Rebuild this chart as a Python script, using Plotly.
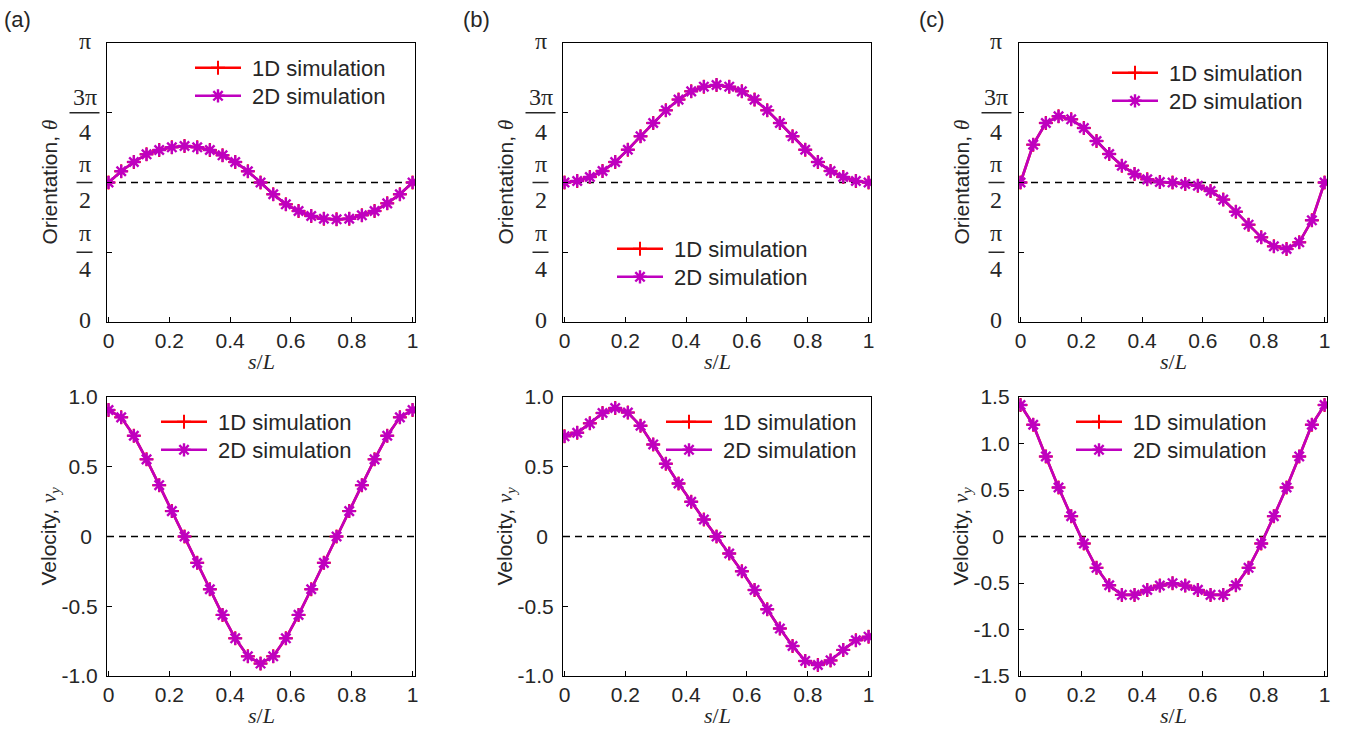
import math
import plotly.graph_objects as go

W, H = 1361, 734

# ---------------- data ----------------
s = [0.0, 0.0417, 0.0833, 0.125, 0.1667, 0.2083, 0.25, 0.2917, 0.3333, 0.375,
     0.4167, 0.4583, 0.5, 0.5417, 0.5833, 0.625, 0.6667, 0.7083, 0.75, 0.7917,
     0.8333, 0.875, 0.9167, 0.9583, 1.0]

theta_a = [1.571, 1.697, 1.802, 1.888, 1.937, 1.967, 1.982, 1.967, 1.937, 1.877,
           1.802, 1.697, 1.571, 1.438, 1.325, 1.250, 1.194, 1.163, 1.156, 1.163,
           1.201, 1.250, 1.336, 1.438, 1.571]
theta_b = [1.571, 1.588, 1.633, 1.700, 1.802, 1.940, 2.091, 2.241, 2.383, 2.504,
           2.597, 2.650, 2.669, 2.650, 2.597, 2.504, 2.383, 2.241, 2.091, 1.940,
           1.802, 1.700, 1.633, 1.588, 1.571]
theta_c = [1.571, 1.997, 2.241, 2.316, 2.282, 2.184, 2.038, 1.892, 1.760, 1.667,
           1.606, 1.576, 1.571, 1.554, 1.535, 1.475, 1.378, 1.242, 1.096, 0.953,
           0.852, 0.822, 0.897, 1.145, 1.571]

v_a = [0.907, 0.854, 0.722, 0.553, 0.368, 0.182, 0.0, -0.189, -0.378, -0.562,
       -0.730, -0.859, -0.911, -0.859, -0.730, -0.562, -0.378, -0.189, 0.0, 0.182,
       0.368, 0.553, 0.722, 0.854, 0.907]
v_b = [0.718, 0.744, 0.811, 0.885, 0.921, 0.888, 0.794, 0.660, 0.522, 0.380,
       0.249, 0.122, 0.0, -0.122, -0.249, -0.383, -0.522, -0.660, -0.785, -0.892,
       -0.921, -0.888, -0.813, -0.744, -0.718]
v_c = [1.414, 1.202, 0.861, 0.527, 0.219, -0.075, -0.337, -0.524, -0.628, -0.628,
       -0.574, -0.528, -0.502, -0.528, -0.574, -0.628, -0.628, -0.524, -0.337, -0.075,
       0.219, 0.527, 0.861, 1.202, 1.414]

series_names = ["1D simulation", "2D simulation"]
panel_labels = ["(a)", "(b)", "(c)"]
x_ticks = [0, 0.2, 0.4, 0.6, 0.8, 1]
x_ticktext = ["0", "0.2", "0.4", "0.6", "0.8", "1"]
theta_ticks = [0, math.pi / 4, math.pi / 2, 3 * math.pi / 4, math.pi]
v_ticks_ab = [-1.0, -0.5, 0, 0.5, 1.0]
v_ticktext_ab = ["-1.0", "-0.5", "0", "0.5", "1.0"]
v_ticks_c = [-1.5, -1.0, -0.5, 0, 0.5, 1.0, 1.5]
v_ticktext_c = ["-1.5", "-1.0", "-0.5", "0", "0.5", "1.0", "1.5"]

# ---------------- style ----------------
RED = "#FF0000"
MAG = "#BF00BF"
TXT = "#262626"
SANS = "Liberation Sans, Arial, sans-serif"
SERIF = "Liberation Serif, Times New Roman, serif"

col_left = [107, 563, 1019]
pw = 308
rows = [(43, 322), (397, 676)]


def fx(px):
    return px / W


def fy(py):
    return 1 - py / H


def pad_zero(labels):
    # the "0" label sits a little left of the right-aligned column in the original
    return [t + "\u00a0" if t == "0" else t for t in labels]


fig = go.Figure()

ydata = [theta_a, theta_b, theta_c, v_a, v_b, v_c]
# (line start x, first row centre y) in pixels
legend_pos = [(196, 68), (618, 249), (1113, 73), (162, 422), (667, 422), (1077, 422)]
ROW_GAP = 28

layout = dict(template="none", width=W, height=H,
              margin=dict(l=0, r=0, t=0, b=0, pad=0, autoexpand=False),
              paper_bgcolor="white", plot_bgcolor="white", showlegend=True)

shapes = []
annotations = []
legend_count = 0

for i in range(6):
    r, c = divmod(i, 3)
    n = "" if i == 0 else str(i + 1)
    L = col_left[c]
    top, bot = rows[r]
    xa = "xaxis" + n
    ya = "yaxis" + n
    lx, ly = legend_pos[i]

    styles = [
        dict(line=dict(color=RED, width=2.6),
             marker=dict(symbol="cross-thin-open", size=10, color=RED,
                         line=dict(color=RED, width=2))),
        dict(line=dict(color=MAG, width=2.6),
             marker=dict(symbol="asterisk-open", size=11, color=MAG,
                         line=dict(color=MAG, width=2.4))),
    ]
    for k in range(2):
        legend_count += 1
        lg = "legend" if legend_count == 1 else "legend" + str(legend_count)
        fig.add_trace(go.Scatter(x=s, y=ydata[i], mode="lines+markers",
                                 name="\u00a0" + series_names[k], hoverinfo="skip",
                                 xaxis="x" + n, yaxis="y" + n, legend=lg, **styles[k]))
        layout[lg] = dict(x=fx(lx - 6), y=fy(ly + k * ROW_GAP), xanchor="left",
                          yanchor="middle", bgcolor="rgba(0,0,0,0)", borderwidth=0,
                          itemwidth=46, font=dict(family=SANS, size=22, color=TXT))

    common = dict(showline=True, linecolor="black", linewidth=1.3, mirror=True,
                  ticks="inside", ticklen=5, tickwidth=1, tickcolor="black",
                  showgrid=False, zeroline=False, automargin=False,
                  tickfont=dict(family=SANS, size=21, color=TXT))
    layout[xa] = dict(common, domain=[fx(L), fx(L + pw)], anchor="y" + n,
                      range=[-0.005, 1.008], tickvals=x_ticks, ticktext=x_ticktext)
    if r == 0:
        layout[ya] = dict(common, domain=[fy(bot), fy(top)], anchor="x" + n,
                          range=[0, math.pi], tickvals=theta_ticks, showticklabels=False)
    else:
        if c == 2:
            rng, tv, tt = [-1.5, 1.5], v_ticks_c, v_ticktext_c
        else:
            rng, tv, tt = [-1.0, 1.0], v_ticks_ab, v_ticktext_ab
        layout[ya] = dict(common, domain=[fy(bot), fy(top)], anchor="x" + n,
                          range=rng, tickvals=tv, ticktext=pad_zero(tt),
                          ticklabelstandoff=4)

    # dashed reference line
    yref_val = math.pi / 2 if r == 0 else 0
    shapes.append(dict(type="line", xref="x" + n + " domain", x0=0, x1=1,
                       yref="y" + n, y0=yref_val, y1=yref_val,
                       line=dict(color="black", width=1.4, dash="7px,5px"), layer="below"))

    # axis titles
    mid = (top + bot) / 2
    if r == 0:
        ytitle = "Orientation, <span style='font-family:Liberation Serif'><i>θ</i></span>"
    else:
        ytitle = ("Velocity, <span style='font-family:Liberation Serif'><i>v</i>"
                  "<sub><i>y</i></sub></span>")
    annotations.append(dict(text=ytitle, xref="paper", yref="paper", x=fx(L - 58), y=fy(mid),
                            xanchor="center", yanchor="middle", textangle=-90, showarrow=False,
                            font=dict(family=SANS, size=21, color=TXT)))
    annotations.append(dict(text="<i>s</i>/<i>L</i>", xref="paper", yref="paper",
                            x=fx(L + pw / 2), y=fy(bot + 39), xanchor="center", yanchor="middle",
                            showarrow=False, font=dict(family=SERIF, size=22, color=TXT)))

    # pi-fraction tick labels for orientation axes
    if r == 0:
        cx = L - 22.5

        def ypx(val):
            return bot - val / math.pi * (bot - top)

        items = [("π", ypx(math.pi) - 1.6), ("3π", ypx(3 * math.pi / 4) - 16),
                 ("4", ypx(3 * math.pi / 4) + 19), ("π", ypx(math.pi / 2) - 19),
                 ("2", ypx(math.pi / 2) + 17), ("π", ypx(math.pi / 4) - 19),
                 ("4", ypx(math.pi / 4) + 17), ("0", ypx(0) - 2)]
        for txt, yy in items:
            annotations.append(dict(text=txt, xref="paper", yref="paper", x=fx(cx), y=fy(yy),
                                    xanchor="center", yanchor="middle", showarrow=False,
                                    font=dict(family=SERIF, size=24, color=TXT)))
        bars = [(3 * math.pi / 4, 30), (math.pi / 2, 16), (math.pi / 4, 16)]
        for val, wdt in bars:
            yy = ypx(val)
            shapes.append(dict(type="line", xref="paper", yref="paper",
                               x0=fx(cx - wdt / 2), x1=fx(cx + wdt / 2), y0=fy(yy), y1=fy(yy),
                               line=dict(color=TXT, width=1.5)))

for c in range(3):
    annotations.append(dict(text=panel_labels[c], xref="paper", yref="paper",
                            x=fx([17, 476, 932][c]), y=fy(20), xanchor="center",
                            yanchor="middle", showarrow=False,
                            font=dict(family=SANS, size=22, color=TXT)))

layout["shapes"] = shapes
layout["annotations"] = annotations
fig.update_layout(**layout)

fig.write_html("out.html", config={"displayModeBar": False},
               post_script="document.body.style.margin='0';"
                           "document.body.style.overflow='hidden';")
